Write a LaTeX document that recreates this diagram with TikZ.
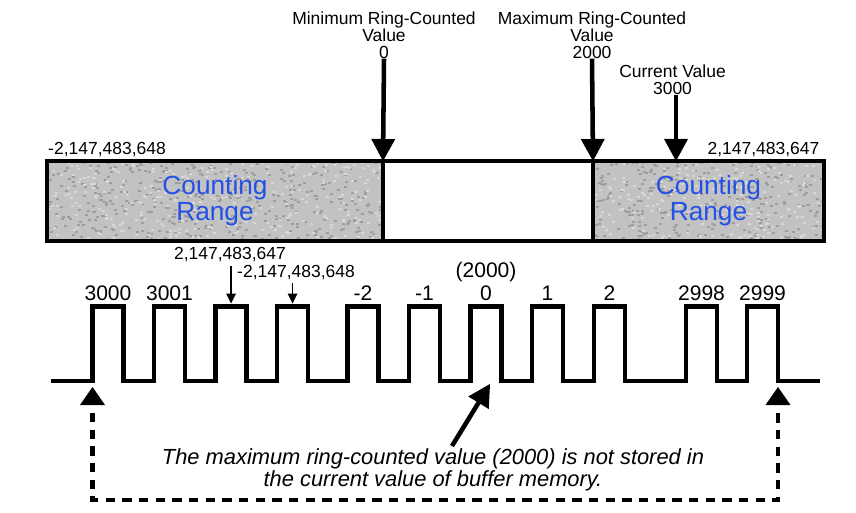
\documentclass[tikz,border=0pt]{standalone}
\usepackage{fontspec}
\setmainfont{Liberation Sans}
\usetikzlibrary{arrows.meta,calc}
\definecolor{rangegray}{RGB}{194,194,194}
\definecolor{speckgray}{RGB}{158,158,158}
\definecolor{speckwhite}{RGB}{215,215,215}
\definecolor{rangeblue}{RGB}{35,80,230}
\begin{document}
\begin{tikzpicture}[x=0.75pt,y=-0.75pt,
  rangebox/.style={draw,line width=3pt,minimum height=60pt,inner sep=0pt,outer sep=0pt,align=center,text=rangeblue,font=\fontsize{19.7}{19.5}\selectfont},
  toplbl/.style={align=center,inner sep=0pt,font=\fontsize{13.1}{12.75}\selectfont},
  wavelbl/.style={inner sep=0pt,font=\fontsize{15.8}{16}\selectfont},
  smalllbl/.style={inner sep=0pt,font=\fontsize{13.1}{13}\selectfont},
  notelbl/.style={align=center,inner sep=0pt,font=\fontsize{16.4}{16.5}\selectfont\itshape},
  bigarrow/.style={line width=3.4pt,-{Triangle[width=18pt,length=16.5pt,line width=0pt]}},
  smallarrow/.style={line width=1.3pt,-{Triangle[width=7.5pt,length=7.5pt,line width=0pt]}},
  uptip/.style={line width=0.1pt,-{Triangle[width=18.75pt,length=13.5pt,line width=0pt]}},
  dashline/.style={line width=3.2pt,dash pattern=on 7pt off 5.5pt},
  wave/.style={line width=3.2pt}
]
\useasboundingbox (0,0) rectangle (856,513);

% textured fills of the counting ranges
\pgfmathsetseed{7}
\fill[rangegray] (47,161) rectangle (383,241);
\fill[rangegray] (593,161) rectangle (824,241);
\begin{scope}
  \clip (47,161) rectangle (383,241);
  \foreach \i in {1,...,420}{\fill[speckgray] ({47+336*rnd},{161+80*rnd}) rectangle ++(3,2);}
  \foreach \i in {1,...,300}{\fill[speckwhite] ({47+336*rnd},{161+80*rnd}) rectangle ++(3,2);}
\end{scope}
\begin{scope}
  \clip (593,161) rectangle (824,241);
  \foreach \i in {1,...,290}{\fill[speckgray] ({593+231*rnd},{161+80*rnd}) rectangle ++(3,2);}
  \foreach \i in {1,...,210}{\fill[speckwhite] ({593+231*rnd},{161+80*rnd}) rectangle ++(3,2);}
\end{scope}

% range bar
\node[rangebox,minimum width=252pt] (left) at (215,201) {Counting\\Range};
\node[rangebox,fill=white,minimum width=157.5pt] (mid) at (488,201) {};
\node[rangebox,minimum width=173.25pt] (right) at (708.5,201) {Counting\\Range};

\node[smalllbl] (lo) at (107,150) {-2,147,483,648};
\node[smalllbl] (hi) at (763.5,150) {2,147,483,647};

% top labels and arrows
\node[toplbl] (minlbl) at (384,35) {Minimum Ring-Counted\\Value\\0};
\node[toplbl] (maxlbl) at (592,35) {Maximum Ring-Counted\\Value\\2000};
\node[toplbl] (curlbl) at (672.5,79.5) {Current Value\\3000};
\coordinate (curtip) at (676,161);

\draw[bigarrow] (minlbl.south) -- (left.north east);
\draw[bigarrow] (maxlbl.south) -- (mid.north east);
\draw[bigarrow] (curlbl.south -| curtip) -- (curtip);

% waveform
\draw[wave] (51,381) foreach \r in {92.5,154,215.5,277,347.5,409,470.5,532,594,686,747}{
  -- (\r,381) -- (\r,306.5) -- ({\r+31},306.5) -- ({\r+31},381)} -- (820,381);

\node[wavelbl] (w1) at (108,293) {3000};
\node[wavelbl] (w2) at (169.5,293) {3001};
\node[wavelbl] (w5) at (363,293) {-2};
\node[wavelbl] (w6) at (424.5,293) {-1};
\node[wavelbl] (w7) at (486,293) {0};
\node[wavelbl] (w7b) at (486,272) {(2000)};
\node[wavelbl] (w8) at (547.5,293) {1};
\node[wavelbl] (w9) at (609.5,293) {2};
\node[wavelbl] (w10) at (701.5,293) {2998};
\node[wavelbl] (w11) at (762.5,293) {2999};

% wrap-around markers
\node[smalllbl] (maxint) at (230,255) {2,147,483,647};
\node[smalllbl] (minint) at (296,273) {-2,147,483,648};
\coordinate (p3top) at (231,303.5);
\coordinate (p4top) at (292.5,303.5);
\draw[smallarrow] (maxint.south -| p3top) ++(0,4) -- (p3top);
\draw[smallarrow] (minint.south -| p4top) ++(0,3) -- (p4top);

% note
\node[notelbl] (note) at (433,470) {The maximum ring-counted value (2000) is not stored in\\the current value of buffer memory.};
\coordinate (notetail) at (452,446);
\coordinate (zerobot) at (490,384);
\draw[bigarrow] (notetail) -- (zerobot);

% dashed return path
\coordinate (lowL) at (92.5,387);
\coordinate (lowR) at (778,387);
\coordinate (baseL) at (92.5,413);
\coordinate (baseR) at (778,413);
\coordinate (bottom) at (400,500);
\draw[uptip] ($(lowL)+(0,18)$) -- (lowL);
\draw[uptip] ($(lowR)+(0,18)$) -- (lowR);
\draw[dashline] (baseL) -- (baseL |- bottom) -- (baseR |- bottom) -- (baseR);
\end{tikzpicture}
\end{document}
